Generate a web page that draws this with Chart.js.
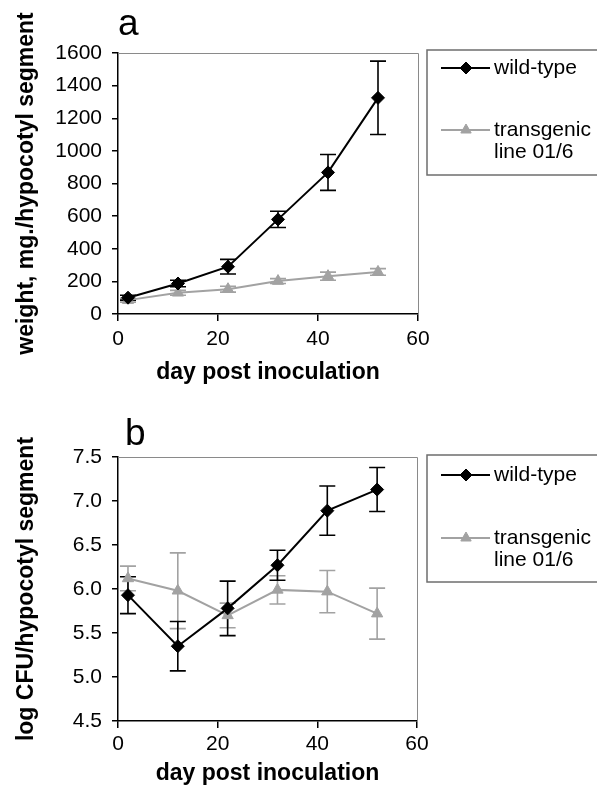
<!DOCTYPE html>
<html>
<head>
<meta charset="utf-8">
<title>Hypocotyl weight and bacterial growth</title>
<script src="https://cdn.jsdelivr.net/npm/chart.js@4.4.1/dist/chart.umd.min.js"></script>
<style>
    html, body { margin: 0; padding: 0; background: #fff; }
    #page { position: relative; width: 597px; height: 793px; overflow: hidden; }
    .panel { position: absolute; left: 0; width: 597px; }
    #panel-a { top: 0; height: 395px; }
    #panel-b { top: 400px; height: 393px; }
</style>
</head>
<body>
<div id="page">
    <div class="panel" id="panel-a"><canvas id="chart-a" width="597" height="395"></canvas></div>
    <div class="panel" id="panel-b"><canvas id="chart-b" width="597" height="393"></canvas></div>
</div>
<script>
// Sampling days (x) and axis ticks.
var days = [2, 12, 22, 32, 42, 52];
var xTicks = [0, 20, 40, 60];

// Panel a: fresh weight, mg per hypocotyl segment (mean and error).
var weightWild = [100, 187, 290, 580, 868, 1325];
var weightWildErr = [15, 20, 45, 50, 110, 225];
var weightTrans = [85, 130, 152, 202, 232, 258];
var weightTransErr = [12, 15, 18, 15, 25, 20];
var weightTicks = [0, 200, 400, 600, 800, 1000, 1200, 1400, 1600];

// Panel b: log CFU per hypocotyl segment (mean and error).
var cfuWild = [5.93, 5.35, 5.78, 6.27, 6.89, 7.13];
var cfuWildErr = [0.21, 0.28, 0.31, 0.17, 0.28, 0.25];
var cfuTrans = [6.12, 5.98, 5.70, 5.99, 5.97, 5.72];
var cfuTransErr = [0.14, 0.43, 0.14, 0.16, 0.24, 0.29];
var cfuTicks = [4.5, 5.0, 5.5, 6.0, 6.5, 7.0, 7.5];

// Series names as they are broken in the legend.
var seriesLabels = [['wild-type'], ['transgenic', 'line 01/6']];

var FONT = '"Liberation Sans", Arial, Helvetica, sans-serif';
var BLACK = '#000000';
var GREY = '#a2a2a2';

Chart.defaults.font.family = FONT;
Chart.defaults.color = BLACK;

/**
 * Pair the day array with a value array.
 */
function toPoints(values) {
    return values.map(function(v, i) {
        return { x: days[i], y: v };
    });
}

/**
 * Vertical error bars with caps, drawn under the lines.
 */
var errorBarPlugin = {
    id: 'errorBars',
    beforeDatasetsDraw: function(chart) {
        var ctx = chart.ctx;
        var xs = chart.scales.x;
        var ys = chart.scales.y;
        var cap = 8;

        for (var i = chart.data.datasets.length - 1; i >= 0; i--) {
            var ds = chart.data.datasets[i];
            if (!ds.errors) {
                continue;
            }
            ctx.save();
            ctx.strokeStyle = ds.borderColor;
            ctx.lineWidth = 1.6;
            ds.data.forEach(function(pt, j) {
                var px = xs.getPixelForValue(pt.x);
                var top = ys.getPixelForValue(pt.y + ds.errors[j]);
                var bottom = ys.getPixelForValue(pt.y - ds.errors[j]);
                ctx.beginPath();
                ctx.moveTo(px, top);
                ctx.lineTo(px, bottom);
                ctx.moveTo(px - cap, top);
                ctx.lineTo(px + cap, top);
                ctx.moveTo(px - cap, bottom);
                ctx.lineTo(px + cap, bottom);
                ctx.stroke();
            });
            ctx.restore();
        }
    }
};

/**
 * Thin grey frame on the top and right of the plot area.
 */
var framePlugin = {
    id: 'plotFrame',
    beforeDatasetsDraw: function(chart) {
        var a = chart.chartArea;
        var ctx = chart.ctx;
        ctx.save();
        ctx.strokeStyle = '#8a8a8a';
        ctx.lineWidth = 1;
        ctx.beginPath();
        ctx.moveTo(a.left, a.top + 0.5);
        ctx.lineTo(a.right + 0.5, a.top + 0.5);
        ctx.lineTo(a.right + 0.5, a.bottom);
        ctx.stroke();
        ctx.restore();
    }
};

/**
 * Panel letter and the boxed legend to the right of the plot.
 */
var decorPlugin = {
    id: 'panelDecor',
    afterDraw: function(chart, args, opts) {
        var ctx = chart.ctx;
        ctx.save();

        // Panel letter.
        ctx.fillStyle = BLACK;
        ctx.font = '37px ' + FONT;
        ctx.textAlign = 'left';
        ctx.textBaseline = 'alphabetic';
        ctx.fillText(opts.letter, opts.letterX, opts.letterY);

        // Legend box.
        var box = opts.box;
        ctx.strokeStyle = '#6e6e6e';
        ctx.lineWidth = 1.5;
        ctx.strokeRect(box.left, box.top, box.width, box.height);

        ctx.font = '21px ' + FONT;
        ctx.textBaseline = 'middle';
        chart.data.datasets.forEach(function(ds, i) {
            var y = opts.rows[i];
            ctx.strokeStyle = ds.borderColor;
            ctx.lineWidth = ds.borderWidth;
            ctx.beginPath();
            ctx.moveTo(box.left + 14, y);
            ctx.lineTo(box.left + 63, y);
            ctx.stroke();

            ctx.fillStyle = ds.pointBackgroundColor;
            ctx.strokeStyle = ds.pointBorderColor;
            ctx.lineWidth = ds.pointBorderWidth;
            Chart.helpers.drawPoint(ctx, {
                pointStyle: ds.pointStyle,
                radius: ds.legendRadius,
                rotation: 0,
                borderWidth: ds.pointBorderWidth
            }, box.left + 39, y);

            ctx.fillStyle = BLACK;
            seriesLabels[i].forEach(function(line, k) {
                ctx.fillText(line, box.left + 67, y + k * 22);
            });
        });
        ctx.restore();
    }
};

/**
 * Build one panel.
 */
function makePanel(canvasId, cfg) {
    var ctx = document.getElementById(canvasId).getContext('2d');
    return new Chart(ctx, {
        type: 'line',
        data: {
            datasets: [
                {
                    label: seriesLabels[0].join(' '),
                    data: toPoints(cfg.wild),
                    errors: cfg.wildErr,
                    borderColor: BLACK,
                    borderWidth: 2,
                    pointStyle: 'rectRot',
                    pointRadius: 6.5,
                    legendRadius: 6,
                    pointBackgroundColor: BLACK,
                    pointBorderColor: BLACK,
                    pointBorderWidth: 1,
                    tension: 0
                },
                {
                    label: seriesLabels[1].join(' '),
                    data: toPoints(cfg.trans),
                    errors: cfg.transErr,
                    borderColor: GREY,
                    borderWidth: 2,
                    pointStyle: 'triangle',
                    pointRadius: 6.5,
                    legendRadius: 6,
                    pointBackgroundColor: GREY,
                    pointBorderColor: GREY,
                    pointBorderWidth: 1,
                    tension: 0
                }
            ]
        },
        options: {
            responsive: false,
            animation: false,
            layout: {
                padding: { left: 0, top: cfg.top, right: cfg.right, bottom: cfg.bottom }
            },
            plugins: {
                legend: { display: false },
                tooltip: { enabled: false },
                panelDecor: cfg.decor
            },
            scales: {
                x: {
                    type: 'linear',
                    min: xTicks[0],
                    max: xTicks[xTicks.length - 1],
                    afterFit: function(scale) {
                        scale.height = cfg.xHeight;
                    },
                    afterBuildTicks: function(scale) {
                        scale.ticks = xTicks.map(function(v) { return { value: v }; });
                    },
                    ticks: {
                        font: { size: 21 },
                        color: BLACK,
                        padding: cfg.xPad,
                        maxRotation: 0
                    },
                    grid: {
                        drawOnChartArea: false,
                        drawTicks: true,
                        tickLength: 7,
                        color: BLACK,
                        lineWidth: 1.5
                    },
                    border: { color: BLACK, width: 1.5 },
                    title: {
                        display: true,
                        text: 'day post inoculation',
                        font: { size: 23, weight: 'bold' },
                        color: BLACK,
                        padding: { top: 0, bottom: 0 }
                    }
                },
                y: {
                    type: 'linear',
                    min: cfg.yTicks[0],
                    max: cfg.yTicks[cfg.yTicks.length - 1],
                    afterFit: function(scale) {
                        scale.width = 118;
                    },
                    afterBuildTicks: function(scale) {
                        scale.ticks = cfg.yTicks.map(function(v) { return { value: v }; });
                    },
                    ticks: {
                        font: { size: 21 },
                        color: BLACK,
                        padding: 10,
                        callback: cfg.yFormat
                    },
                    grid: {
                        drawOnChartArea: false,
                        drawTicks: true,
                        tickLength: 6,
                        color: BLACK,
                        lineWidth: 1.5
                    },
                    border: { color: BLACK, width: 1.5 },
                    title: {
                        display: true,
                        text: cfg.yTitle,
                        font: { size: 23, weight: 'bold' },
                        color: BLACK,
                        padding: { top: 13, bottom: 0 }
                    }
                }
            }
        },
        plugins: [framePlugin, errorBarPlugin, decorPlugin]
    });
}

makePanel('chart-a', {
    wild: weightWild,
    wildErr: weightWildErr,
    trans: weightTrans,
    transErr: weightTransErr,
    yTicks: weightTicks,
    yTitle: 'weight, mg./hypocotyl segment',
    yFormat: function(v) { return String(v); },
    top: 53,
    right: 179,
    bottom: 9,
    xHeight: 72,
    xPad: 6,
    decor: {
        letter: 'a',
        letterX: 118,
        letterY: 35,
        box: { left: 427, top: 50, width: 180, height: 125 },
        rows: [68, 130]
    }
});

makePanel('chart-b', {
    wild: cfuWild,
    wildErr: cfuWildErr,
    trans: cfuTrans,
    transErr: cfuTransErr,
    yTicks: cfuTicks,
    yTitle: 'log CFU/hypocotyl segment',
    yFormat: function(v) { return Number(v).toFixed(1); },
    top: 57,
    right: 180,
    bottom: 6,
    xHeight: 66,
    xPad: 4,
    decor: {
        letter: 'b',
        letterX: 125,
        letterY: 45,
        box: { left: 427, top: 55, width: 180, height: 127 },
        rows: [75, 138]
    }
});
</script>
</body>
</html>
